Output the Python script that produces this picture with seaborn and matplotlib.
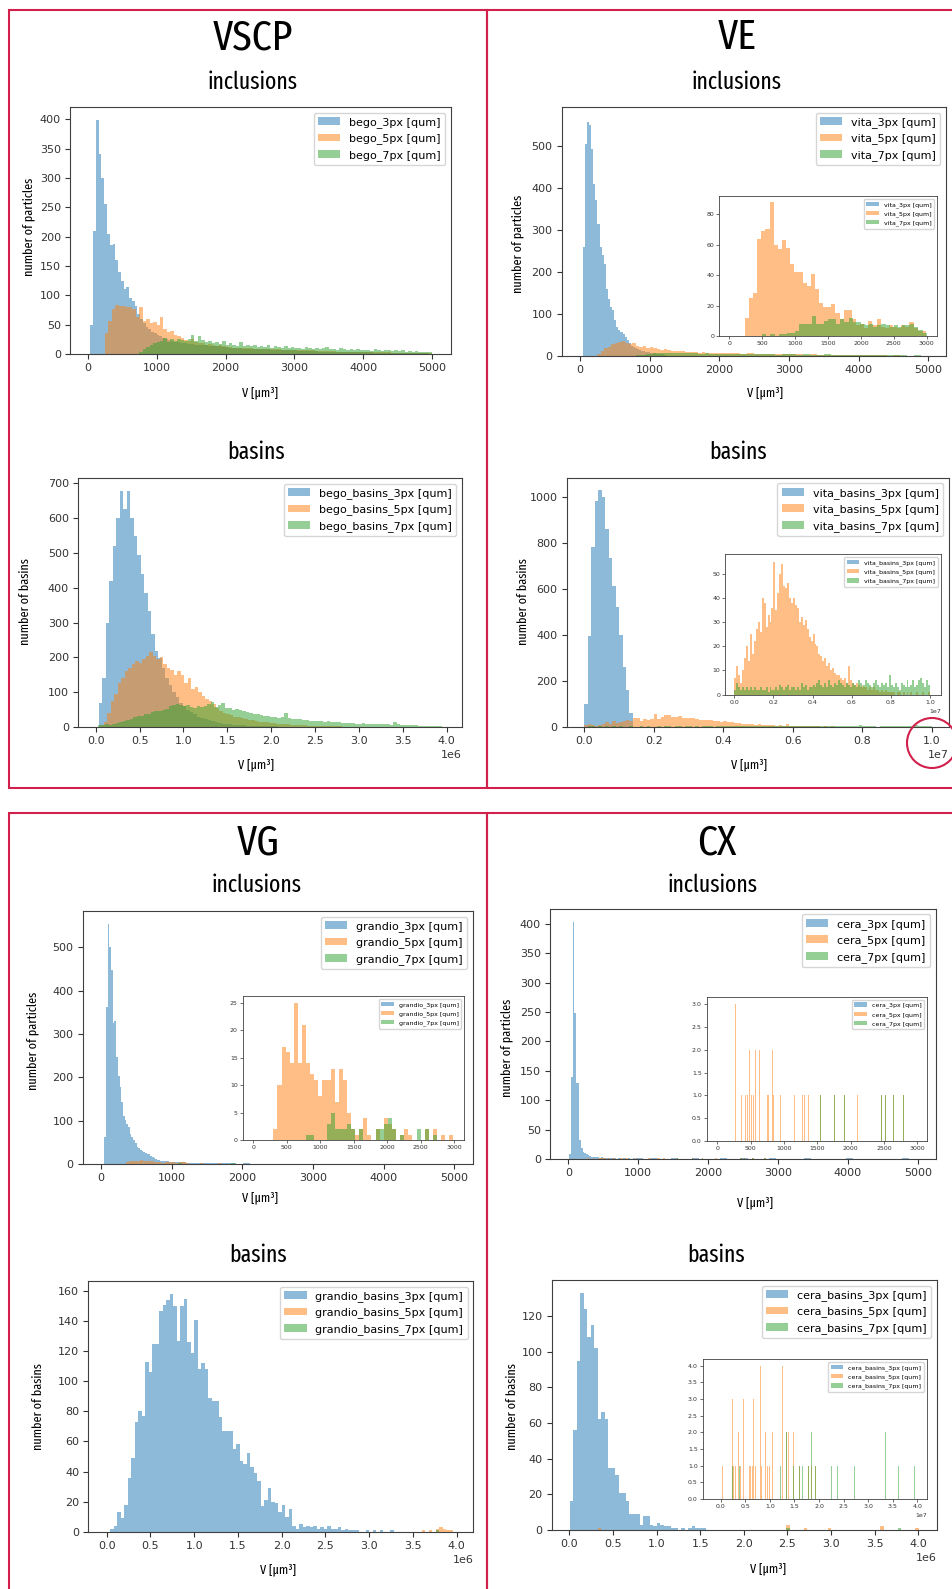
import numpy as np
import matplotlib
matplotlib.use("Agg")
import matplotlib.pyplot as plt
import seaborn as sns
import pandas as pd
from matplotlib.patches import Patch, Rectangle, Ellipse
from matplotlib import font_manager as fm

# ------------------------------------------------------------------ data
# each series: list of segments (bin start, bin width, counts per bin)
# ---- VSCP inclusions
vscp_inc_3 = [(40, 40, [50, 210, 398, 341, 300, 256, 205, 185, 188, 160, 140, 125, 111, 114, 95,
                         91, 82, 68, 60, 52, 46, 42, 38, 35, 32, 30, 28, 26, 24, 22]),
              (1240, 100, [20, 18, 17, 16, 15, 14, 13, 12, 11, 10, 9, 9, 8, 8, 7, 7, 6, 6, 5, 5,
                           5, 4, 4, 4, 3, 3, 3, 3, 3, 2, 2, 2, 2, 2, 2, 1, 1])]
vscp_inc_5 = [(250, 50, [35, 57, 77, 83, 82, 82, 80, 80, 77, 63, 80, 57, 60, 52, 55, 49, 63, 43, 38, 40,
                          32, 30, 27, 24, 22, 25, 20, 19, 18, 16, 17, 15, 14, 15, 13]),
              (2000, 100, [12, 11, 11, 10, 9, 9, 8, 8, 7, 7, 6, 6, 6, 5, 5, 5, 4, 4, 4, 4,
                           3, 3, 3, 3, 2, 2, 2, 2, 2, 2])]
vscp_inc_7 = [(750, 50, [3, 8, 12, 15, 18, 20, 22, 28, 20, 25, 22, 26, 24, 22, 25, 32, 22, 30, 24, 20,
                          22, 18, 20, 17, 22, 16, 18, 15, 14, 20, 13, 16, 14, 15, 12, 14, 12, 15, 11, 13,
                          12, 10, 14, 11, 12, 10, 11, 9, 12, 10, 9, 11, 8, 10, 12, 8, 9, 7, 10, 8,
                          7, 9, 6, 8, 7, 6, 7, 5, 8, 6, 5, 7, 6, 5, 6, 5, 6, 4, 5, 4,
                          5, 4, 3, 4, 3])]
# ---- VSCP basins
vscp_bas_3 = [(0.034e6, 0.04e6, [69, 141, 300, 420, 520, 600, 677, 625, 679, 600, 548, 495, 438, 385, 333,
                                  266, 218, 199, 170, 142, 120, 100, 85, 70, 60, 50, 42, 36, 30, 26,
                                  22, 19, 16, 14, 12, 10, 9, 8, 7, 6, 5, 5, 4, 4, 3, 3, 3, 2, 2, 2,
                                  2, 1, 1, 1, 1, 1, 1, 0, 1, 1])]
vscp_bas_5 = [(0.05e6, 0.04e6, [5, 15, 40, 75, 95, 125, 140, 160, 170, 180, 190, 185, 195, 205, 215,
                                 205, 195, 200, 180, 170, 165, 150, 160, 150, 125, 140, 110, 115, 100, 90,
                                 80, 75, 65, 55, 45, 40, 38, 35, 30, 28, 25, 22, 20, 20, 18, 15, 14, 13,
                                 12, 11, 10, 9, 8, 8, 7, 6, 6, 5, 5, 4, 4, 4, 3, 3, 3, 2, 2, 2, 2, 1,
                                 1, 1, 1, 1, 1])]
vscp_bas_7 = [(0.03e6, 0.04e6, [5, 6, 8, 7, 10, 12, 14, 17, 20, 24, 28, 32, 32, 36, 38, 42, 45, 46, 48, 52,
                                 60, 62, 65, 63, 60, 64, 58, 55, 60, 58, 60, 65, 73, 58, 62, 70, 55, 54, 50, 52,
                                 48, 45, 42, 40, 38, 36, 35, 33, 32, 30, 30, 26, 28, 39, 25, 24, 22, 24, 20, 21,
                                 18, 16, 17, 16, 15, 16, 14, 13, 13, 12, 11, 12, 11, 10, 10, 11, 9, 9, 10, 8,
                                 8, 8, 9, 7, 14, 8, 6, 7, 5, 6, 5, 4, 4, 3, 3, 2, 2, 2, 1])]
# ---- VE inclusions (main)
ve_inc_3 = [(40, 30, [260, 506, 558, 550, 494, 411, 371, 316, 260, 240, 220, 160, 137, 117, 109, 85, 69, 61,
                      57, 53, 45, 37, 30, 25, 22, 20, 17, 15, 13, 12, 10, 9, 8, 7, 6, 5, 5, 4, 4, 3])]
ve_inc_5 = [(250, 50, [5, 12, 18, 22, 28, 30, 33, 35, 32, 28, 30, 25, 22, 24, 20, 21, 18, 17, 15, 16,
                       14, 13, 12, 11, 12, 10, 10, 9, 9, 8, 9, 8, 7, 8, 7]),
            (2000, 100, [7, 6, 6, 5, 6, 5, 5, 4, 5, 4, 4, 4, 3, 4, 3, 3, 3, 2, 3, 2,
                         2, 2, 2, 2, 1, 2, 1, 1, 1, 1])]
ve_inc_7 = [(500, 50, [1, 0, 1, 0, 1, 1, 2, 2, 3, 5, 5, 6, 8, 6, 6, 7, 7, 7, 6, 7,
                       6, 7, 6, 6, 5, 5, 6, 5, 4, 5]),
            (2000, 100, [5, 4, 5, 4, 4, 5, 4, 4, 3, 4, 4, 3, 4, 3, 3, 4, 3, 3, 2, 3,
                         3, 2, 2, 3, 2, 2, 2, 1, 2, 1])]
# ---- VE inclusions (inset, 0-3000)
ve_ins_5 = [(238, 62.5, [12, 25, 28, 64, 69, 70, 88, 60, 57, 63, 58, 47, 42, 42, 35, 33, 41, 31, 22, 19,
                         19, 21, 15, 11, 17, 17, 11, 7, 8, 5, 10, 7, 11, 6, 5, 7, 6, 5, 7, 6,
                         9, 5, 3, 3])]
ve_ins_7 = [(500, 62.5, [1, 0, 1, 0, 1, 1, 2, 2, 3, 8, 8, 8, 13, 8, 8, 10, 11, 11, 8, 11,
                         9, 12, 9, 9, 8, 7, 8, 6, 7, 8, 7, 6, 7, 6, 7, 7, 8, 6, 4, 2])]
# ---- VE basins (main and inset share the 5px / 7px data)
ve_bas_3 = [(0, 0.01e7, [100, 395, 780, 980, 1030, 1000, 860, 735, 610, 520, 400, 260, 160, 60])]
ve_bas_5 = [(0, 0.01e7, [7, 12, 8, 5, 10, 15, 20, 14, 25, 17, 22, 27, 30, 26, 40, 38, 28, 33, 30, 36,
                         55, 35, 42, 50, 54, 45, 44, 46, 40, 38, 40, 37, 36, 30, 32, 29, 31, 27, 24, 22,
                         25, 21, 20, 17, 16, 14, 15, 12, 13, 10, 11, 9, 8, 8, 7, 6, 7, 5, 12, 6,
                         5, 4, 5, 4, 3, 4, 3, 3, 2, 3, 2, 3, 2, 2, 1, 2, 1, 2, 1, 1,
                         1, 1, 0, 1, 1, 0, 1, 0, 1, 0, 1, 0, 0, 1, 0, 0, 1, 0, 0, 1])]
ve_bas_7 = [(0, 0.01e7, [2, 5, 3, 2, 3, 2, 3, 2, 3, 2, 3, 2, 2, 3, 2, 2, 3, 1, 3, 2,
                         2, 3, 2, 4, 3, 2, 3, 4, 2, 3, 3, 2, 3, 2, 5, 3, 4, 2, 3, 3,
                         4, 3, 5, 6, 4, 3, 5, 3, 6, 4, 3, 5, 4, 6, 5, 4, 3, 5, 4, 3,
                         5, 4, 3, 6, 5, 3, 4, 6, 5, 4, 3, 5, 6, 4, 3, 5, 4, 5, 3, 8,
                         4, 3, 5, 3, 2, 5, 4, 3, 6, 3, 4, 6, 3, 4, 6, 7, 5, 3, 6, 4])]
# ---- VG inclusions (main)
vg_inc_3 = [(47, 24, [63, 363, 554, 502, 448, 325, 329, 248, 202, 178, 143, 110, 101, 92, 86, 70, 63, 55,
                      48, 40, 36, 32, 30, 28, 26, 24, 22, 18, 16, 14, 12, 10, 9, 8, 8, 7, 6, 6, 5, 5]),
            (1007, 100, [4, 4, 3, 3, 3, 2, 2, 2, 2, 1, 2, 1, 1, 1, 1, 1, 0, 1, 0, 1])]
vg_inc_5 = [(300, 50, [1, 4, 7, 6, 6, 10, 6, 8, 6, 5, 4, 3, 4, 5, 5, 3, 5, 4, 2, 1,
                       1, 1, 2, 0, 1, 1, 0, 2, 1, 1, 0, 1, 1, 0, 0, 0, 1, 0, 1, 0, 0, 1])]
vg_inc_7 = [(790, 50, [0, 1, 0, 0, 0, 1, 2, 1, 1, 1, 1, 1, 0, 1, 0, 0, 1, 1, 0, 1,
                       1, 2, 1, 1, 0, 1, 0, 0, 0, 1, 0, 1, 0, 0, 1, 0, 1, 0, 1])]
# ---- VG inclusions (inset)
vg_ins_5 = [(300, 61, [2, 10, 17, 16, 14, 25, 14, 21, 14, 12, 11, 8, 11, 11, 13, 7, 13, 11, 5, 2,
                       1, 2, 4, 1, 0, 2, 0, 4, 3, 2, 0, 1, 2, 1, 0, 0, 0, 2, 0, 2, 0, 1, 0, 1])]
vg_ins_7 = [(790, 61, [1, 1, 0, 0, 0, 3, 5, 2, 2, 2, 3, 2, 0, 2, 0, 0, 0, 2, 2, 3,
                       4, 2, 0, 1, 0, 0, 0, 2, 0, 2, 0, 1])]
# ---- VG basins
vg_bas_3 = [(0.04e6, 0.04e6, [2, 4, 13, 9, 18, 36, 49, 73, 80, 77, 113, 106, 125, 125, 147, 151, 154, 158, 150, 127,
                               150, 155, 126, 119, 141, 108, 112, 108, 89, 87, 87, 76, 67, 67, 67, 55, 58, 47, 45, 52,
                               43, 39, 34, 17, 21, 29, 20, 19, 13, 18, 10, 15, 4, 2, 5, 3, 4, 3, 4, 2,
                               3, 2, 4, 2, 2, 3, 1, 2, 1, 1, 1, 0, 0, 1, 0, 1, 0, 1, 0, 0, 1])]
vg_bas_5 = [(3.6e6, 0.04e6, [1, 0, 1, 0, 2, 3, 2, 1, 1, 0])]
vg_bas_7 = [(3.6e6, 0.04e6, [0, 0, 0, 0, 1, 0, 0, 0, 0, 0])]
# ---- CX inclusions
cx_inc_3 = [(14, 24, [8, 140, 404, 248, 129, 130, 32, 18, 12, 10, 8, 6, 5, 4, 4, 3, 3, 3, 2, 3,
                      2, 2, 1, 2, 1, 1, 1, 1, 0, 1, 1, 0, 1, 1, 0, 1, 0, 0, 1, 0]),
            (974, 100, [1, 0, 1, 0, 0, 1, 0, 0, 1, 0, 0, 0, 1, 0, 0, 1, 0, 0, 0, 1,
                        0, 0, 0, 0, 1, 0, 0, 0, 0, 0, 1, 0, 0, 0, 0, 0, 0, 0, 1, 0])]
cx_inc_5_values = [280, 280, 280, 366, 431, 456, 491, 491, 516, 541, 581, 581, 641, 641, 751, 776,
                   826, 826, 841, 956, 1156, 1281, 1306, 1376, 1551, 1766, 1916, 2106, 2466, 2531,
                   2651, 2801]
cx_inc_7_values = [1551, 1766, 1916, 2466, 2531, 2651, 2801]
# ---- CX basins
cx_bas_3 = [(0.005e6, 0.04e6, [16, 56, 95, 133, 124, 108, 115, 102, 62, 66, 62, 35, 35, 31, 21, 21, 16, 9, 9, 9,
                                3, 8, 8, 3, 2, 4, 3, 2, 2, 1, 1, 0, 1, 0, 1, 2, 1, 1, 1])]
cx_bas_5_values_1e7 = [0.033, 0.25, 0.25, 0.25, 0.27, 0.30, 0.36, 0.36, 0.40, 0.47, 0.47, 0.47, 0.58,
                       0.61, 0.65, 0.67, 0.67, 0.67, 0.70, 0.80, 0.80, 0.80, 0.80, 0.83, 0.91, 0.91,
                       0.94, 0.99, 1.05, 1.05, 1.24, 1.24, 1.24, 1.24, 1.33, 1.33, 1.38, 1.38, 1.48,
                       1.48, 1.61, 1.78, 1.84, 1.92]
cx_bas_7_values_1e7 = [0.25, 0.38, 1.20, 1.33, 1.33, 1.48, 1.60, 1.67, 1.78, 1.84, 1.84, 1.92, 2.24,
                       2.37, 2.72, 3.34, 3.34, 3.61, 3.94]

panel_titles = ["VSCP", "VE", "VG", "CX"]
sub_titles = ["inclusions", "basins"]
prefixes = ["bego", "vita", "grandio", "cera"]
sizes = ["3px", "5px", "7px"]

# ------------------------------------------------------------------ fonts
names = {f.name for f in fm.fontManager.ttflist}
cond_font = "DejaVu Sans"
for cand in ["Fira Sans Extra Condensed", "Fira Sans Condensed", "Barlow Condensed", "Arial Narrow"]:
    if cand in names:
        cond_font = cand
        break

# ------------------------------------------------------------------ figure
W, H = 953, 1589
fig = plt.figure(figsize=(W / 100, H / 100), dpi=100)
C3, C5, C7 = "#1f77b4", "#ff7f0e", "#2ca02c"
RED = "#d2204c"


def add_ax(L, T, R, B):
    return fig.add_axes([L / W, 1 - B / H, (R - L) / W, (B - T) / H])


def draw_segments(ax, segments, color):
    edges, centers, weights = [], [], []
    for start, width, counts in segments:
        n = len(counts)
        e = start + width * np.arange(n + 1)
        edges.append(e)
        centers.append(e[:-1] + width / 2)
        weights.append(np.asarray(counts, float))
    edges = np.unique(np.round(np.concatenate(edges), 6))
    df = pd.DataFrame({"v": np.concatenate(centers), "w": np.concatenate(weights)})
    sns.histplot(data=df, x="v", weights="w", bins=edges.tolist(),
                 color=color, alpha=0.5, linewidth=0, ax=ax)


def draw_values(ax, values, start, width, n, color):
    edges = start + width * np.arange(n + 1)
    df = pd.DataFrame({"v": np.asarray(values, float)})
    sns.histplot(data=df, x="v", bins=edges.tolist(), color=color, alpha=0.5, linewidth=0, ax=ax)


def style(ax, xlim, ylim, xticks, yticks, inset=False):
    ax.set_xlim(*xlim)
    ax.set_ylim(*ylim)
    ax.set_xticks(xticks)
    ax.set_yticks(yticks)
    ax.set_xlabel("")
    ax.set_ylabel("")
    fs = 4.5 if inset else 8
    ax.tick_params(labelsize=fs, length=2 if inset else 3.5, width=0.5 if inset else 0.8,
                   pad=1.5 if inset else 3, colors="#333333")
    ax.xaxis.get_offset_text().set_fontsize(fs)
    for s in ax.spines.values():
        s.set_linewidth(0.6 if inset else 0.8)
        s.set_edgecolor("#404040")


def legend(ax, labels, inset=False):
    handles = [Patch(facecolor=c, alpha=0.5, label=l) for c, l in zip([C3, C5, C7], labels)]
    ax.legend(handles=handles, loc="upper right", fontsize=4.5 if inset else 8)


def labels_for(prefix, basins):
    mid = "_basins" if basins else ""
    return [f"{prefix}{mid}_{s} [qum]" for s in sizes]


def ftext(x, y, s, size, **kw):
    fig.text(x / W, 1 - y / H, s, fontsize=size, ha="center", va="center",
             family=[cond_font, "DejaVu Sans"], **kw)


TITLE_FS, SUB_FS, LAB_FS = 31, 17, 9.5

# ---------------- VSCP
ax = add_ax(70, 107, 451, 354)
draw_segments(ax, vscp_inc_3, C3); draw_segments(ax, vscp_inc_5, C5); draw_segments(ax, vscp_inc_7, C7)
style(ax, (-257, 5273), (0, 421), np.arange(0, 5001, 1000), np.arange(0, 401, 50))
legend(ax, labels_for(prefixes[0], False))

ax = add_ax(78, 478, 462, 727)
draw_segments(ax, vscp_bas_3, C3); draw_segments(ax, vscp_bas_5, C5); draw_segments(ax, vscp_bas_7, C7)
style(ax, (-0.2017e6, 4.174e6), (0, 715), np.arange(0, 4.01e6, 0.5e6), np.arange(0, 701, 100))
legend(ax, labels_for(prefixes[0], True))

# ---------------- VE
ax = add_ax(561.7, 107, 946, 356)
draw_segments(ax, ve_inc_3, C3); draw_segments(ax, ve_inc_5, C5); draw_segments(ax, ve_inc_7, C7)
style(ax, (-263, 5254), (0, 594), np.arange(0, 5001, 1000), np.arange(0, 501, 100))
legend(ax, labels_for(prefixes[1], False))
ax = add_ax(719, 196, 937, 336)
draw_segments(ax, ve_ins_5, C5); draw_segments(ax, ve_ins_7, C7)
style(ax, (-156, 3157), (0, 92), np.arange(0, 3001, 500), np.arange(0, 81, 20), inset=True)
legend(ax, labels_for(prefixes[1], False), inset=True)

ax = add_ax(566.7, 477.7, 949, 727)
draw_segments(ax, ve_bas_3, C3); draw_segments(ax, ve_bas_5, C5); draw_segments(ax, ve_bas_7, C7)
style(ax, (-0.0507e7, 1.05e7), (0, 1082), np.arange(0, 1.01e7, 0.2e7), np.arange(0, 1001, 200))
legend(ax, labels_for(prefixes[1], True))
ax = add_ax(725, 554.3, 940.7, 694.7)
draw_segments(ax, ve_bas_5, C5); draw_segments(ax, ve_bas_7, C7)
style(ax, (-0.0475e7, 1.0547e7), (0, 58), np.arange(0, 1.01e7, 0.2e7), np.arange(0, 51, 10), inset=True)
legend(ax, labels_for(prefixes[1], True), inset=True)

# ---------------- VG
ax = add_ax(82.7, 911, 472.7, 1164)
draw_segments(ax, vg_inc_3, C3); draw_segments(ax, vg_inc_5, C5); draw_segments(ax, vg_inc_7, C7)
style(ax, (-259, 5260), (0, 584), np.arange(0, 5001, 1000), np.arange(0, 501, 100))
legend(ax, labels_for(prefixes[2], False))
ax = add_ax(242.7, 996, 464.3, 1140)
draw_segments(ax, vg_ins_5, C5); draw_segments(ax, vg_ins_7, C7)
style(ax, (-158, 3149), (0, 26.3), np.arange(0, 3001, 500), np.arange(0, 26, 5), inset=True)
legend(ax, labels_for(prefixes[2], False), inset=True)

ax = add_ax(88.3, 1281, 473.3, 1531.7)
draw_segments(ax, vg_bas_3, C3); draw_segments(ax, vg_bas_5, C5); draw_segments(ax, vg_bas_7, C7)
style(ax, (-0.21e6, 4.19e6), (0, 166.7), np.arange(0, 4.01e6, 0.5e6), np.arange(0, 161, 20))
legend(ax, labels_for(prefixes[2], True))

# ---------------- CX
ax = add_ax(550, 908.7, 935.7, 1159)
draw_segments(ax, cx_inc_3, C3)
draw_values(ax, cx_inc_5_values, 14, 24, 120, C5)
draw_values(ax, cx_inc_7_values, 14, 24, 120, C7)
style(ax, (-262, 5257), (0, 426), np.arange(0, 5001, 1000), np.arange(0, 401, 50))
legend(ax, labels_for(prefixes[3], False))
ax = add_ax(706.7, 996.7, 927.3, 1140.7)
draw_values(ax, cx_inc_5_values, 270, 15, 170, C5)
draw_values(ax, cx_inc_7_values, 270, 15, 170, C7)
style(ax, (-159, 3150), (0, 3.17), np.arange(0, 3001, 500), np.arange(0, 3.01, 0.5), inset=True)
legend(ax, labels_for(prefixes[3], False), inset=True)

ax = add_ax(551.7, 1280, 936.7, 1530)
draw_segments(ax, cx_bas_3, C3)
draw_values(ax, np.asarray(cx_bas_5_values_1e7) * 1e7, 0.005e6, 0.04e6, 100, C5)
draw_values(ax, np.asarray(cx_bas_7_values_1e7) * 1e7, 0.005e6, 0.04e6, 100, C7)
style(ax, (-0.2017e6, 4.211e6), (0, 140.2), np.arange(0, 4.01e6, 0.5e6), np.arange(0, 121, 20))
legend(ax, labels_for(prefixes[3], True))
ax = add_ax(702.7, 1359.3, 926.7, 1499)
draw_values(ax, np.asarray(cx_bas_5_values_1e7) * 1e7, 0, 0.02e7, 200, C5)
draw_values(ax, np.asarray(cx_bas_7_values_1e7) * 1e7, 0, 0.02e7, 200, C7)
style(ax, (-0.366e7, 4.191e7), (0, 4.19), np.arange(0, 4.01e7, 0.5e7), np.arange(0, 4.01, 0.5), inset=True)
legend(ax, labels_for(prefixes[3], True), inset=True)

# ------------------------------------------------------------------ texts
for (x, y), t in zip([(253, 38), (737, 38), (258, 843), (717, 843)], panel_titles):
    ftext(x, y, t, TITLE_FS)
for (x, y) in [(253, 82), (737, 82), (257, 885), (713, 885)]:
    ftext(x, y, sub_titles[0], SUB_FS)
for (x, y) in [(256, 452), (738, 452), (258, 1255), (716, 1255)]:
    ftext(x, y, sub_titles[1], SUB_FS)
for (x, y) in [(260, 393), (765, 393), (256, 765), (749, 765), (260, 1198), (755, 1203), (278, 1570), (768, 1569)]:
    ftext(x, y, "V [µm³]", LAB_FS)
for (x, y) in [(29, 227), (518, 244), (33, 1041), (507, 1048)]:
    ftext(x, y, "number of particles", LAB_FS, rotation=90)
for (x, y) in [(25, 602), (523, 602), (38, 1407), (512, 1407)]:
    ftext(x, y, "number of basins", LAB_FS, rotation=90)

# ------------------------------------------------------------------ red frames
for (x0, y0, x1, y1) in [(9, 10, 487, 788), (487, 10, 965, 788), (9, 813, 487, 1600), (487, 813, 965, 1600)]:
    fig.add_artist(Rectangle((x0 / W, 1 - y1 / H), (x1 - x0) / W, (y1 - y0) / H, transform=fig.transFigure,
                             fill=False, edgecolor=RED, linewidth=1.5, zorder=10))
fig.add_artist(Ellipse((932 / W, 1 - 743 / H), 50 / W, 50 / H, transform=fig.transFigure,
                       fill=False, edgecolor=RED, linewidth=1.5, zorder=10))

fig.savefig("out.png", dpi=100)
